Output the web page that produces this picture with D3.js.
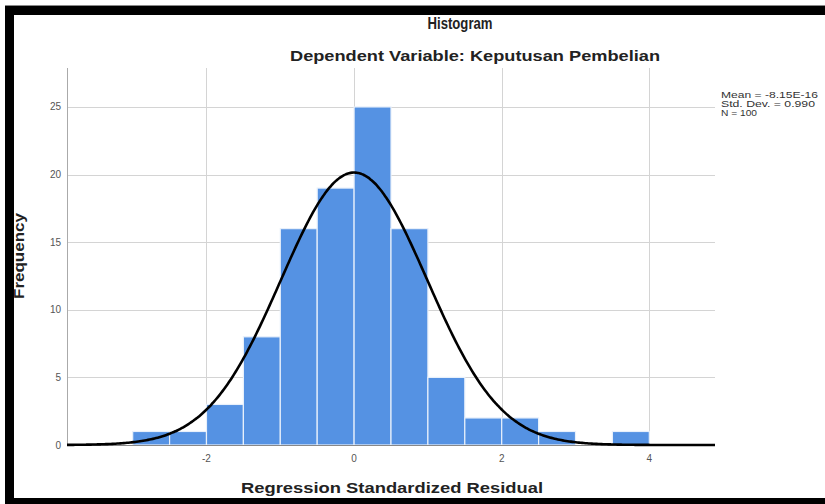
<!DOCTYPE html>
<html>
<head>
<meta charset="utf-8">
<script src="https://cdn.jsdelivr.net/npm/d3@7"></script>
<style>
  html, body { margin: 0; padding: 0; background: #fff; }
  svg { display: block; }
  text { font-family: "Liberation Sans", Arial, sans-serif; }
</style>
</head>
<body>
<svg id="chart" width="825" height="504"></svg>
<script>
// ---- data ----
const binStarts = [-3, -2.5, -2, -1.5, -1, -0.5, 0, 0.5, 1, 1.5, 2, 2.5, 3, 3.5];
const binWidth = 0.5;
const frequencies = [1, 1, 3, 8, 16, 19, 25, 16, 5, 2, 2, 1, 0, 1];
const xTicks = [-2, 0, 2, 4];
const yTicks = [0, 5, 10, 15, 20, 25];
const statLabels = ["Mean = -8.15E-16", "Std. Dev. = 0.990", "N = 100"];
const mean = -8.15e-16, sd = 0.990, n = 100;

const svg = d3.select("#chart");

// frame (black bands as in the screenshot)
svg.append("rect").attr("x", 0).attr("y", 0).attr("width", 825).attr("height", 504).attr("fill", "#fff");
svg.append("rect").attr("x", 5).attr("y", 6).attr("width", 820).attr("height", 9).attr("fill", "#000");
svg.append("line").attr("x1", 5).attr("x2", 825).attr("y1", 5.5).attr("y2", 5.5).attr("stroke", "#888");
svg.append("rect").attr("x", 5).attr("y", 6).attr("width", 9).attr("height", 498).attr("fill", "#000");
svg.append("rect").attr("x", 5).attr("y", 498).attr("width", 820).attr("height", 6).attr("fill", "#000");

const x = d3.scaleLinear().domain([-3.89, 4.89]).range([67, 715]);
const y = d3.scaleLinear().domain([0, 27.88]).range([445, 68]);

// grid
const g = svg.append("g");
g.selectAll(".hg").data(yTicks.filter(d => d > 0)).join("line")
  .attr("x1", 67).attr("x2", 715)
  .attr("y1", d => Math.round(y(d)) + 0.5).attr("y2", d => Math.round(y(d)) + 0.5)
  .attr("stroke", "#d4d4d4").attr("stroke-width", 1);
g.selectAll(".vg").data(xTicks).join("line")
  .attr("x1", d => Math.round(x(d)) + 0.5).attr("x2", d => Math.round(x(d)) + 0.5)
  .attr("y1", 68).attr("y2", 445)
  .attr("stroke", "#d4d4d4").attr("stroke-width", 1);

// bars
g.selectAll(".bar").data(binStarts.map((s, i) => ({s, f: frequencies[i]})).filter(d => d.f > 0)).join("rect")
  .attr("x", d => x(d.s))
  .attr("width", d => x(d.s + binWidth) - x(d.s))
  .attr("y", d => y(d.f))
  .attr("height", d => y(0) - y(d.f))
  .attr("fill", "#5592e3")
  .attr("stroke", "#e8f0fb").attr("stroke-width", 1.2);

// axes lines
svg.append("line").attr("x1", 67.5).attr("x2", 67.5).attr("y1", 68).attr("y2", 445)
  .attr("stroke", "#aaa").attr("stroke-width", 1);
svg.append("line").attr("x1", 67).attr("x2", 715).attr("y1", 445.5).attr("y2", 445.5)
  .attr("stroke", "#888").attr("stroke-width", 1);

// normal curve from stats
const pts = d3.range(0, 401).map(i => {
  const xv = x.domain()[0] + (x.domain()[1] - x.domain()[0]) * i / 400;
  const yv = n * binWidth / (sd * Math.sqrt(2 * Math.PI)) * Math.exp(-0.5 * ((xv - mean) / sd) ** 2);
  return [xv, yv];
});
svg.append("path").datum(pts)
  .attr("d", d3.line().x(d => x(d[0])).y(d => y(d[1])).curve(d3.curveBasis))
  .attr("fill", "none").attr("stroke", "#000").attr("stroke-width", 2.6);

// tick labels
svg.selectAll(".yt").data(yTicks).join("text")
  .attr("x", 61).attr("y", d => y(d) + 3.5)
  .attr("text-anchor", "end").attr("font-size", 10).attr("fill", "#555")
  .text(d => d);
svg.selectAll(".xt").data(xTicks).join("text")
  .attr("x", d => x(d)).attr("y", 462)
  .attr("text-anchor", "middle").attr("font-size", 10).attr("fill", "#555")
  .text(d => d);

// titles
svg.append("text").attr("x", 460).attr("y", 29).attr("text-anchor", "middle")
  .attr("font-size", 16).attr("font-weight", "bold").attr("fill", "#222")
  .attr("textLength", 65).attr("lengthAdjust", "spacingAndGlyphs")
  .text("Histogram");
svg.append("text").attr("x", 475).attr("y", 61).attr("text-anchor", "middle")
  .attr("font-size", 15).attr("font-weight", "bold").attr("fill", "#222")
  .attr("textLength", 370).attr("lengthAdjust", "spacingAndGlyphs")
  .text("Dependent Variable: Keputusan Pembelian");
svg.append("text").attr("x", 392).attr("y", 493).attr("text-anchor", "middle")
  .attr("font-size", 15).attr("font-weight", "bold").attr("fill", "#222")
  .attr("textLength", 302).attr("lengthAdjust", "spacingAndGlyphs")
  .text("Regression Standardized Residual");
svg.append("text").attr("transform", "translate(24,256) rotate(-90)").attr("text-anchor", "middle")
  .attr("font-size", 14).attr("font-weight", "bold").attr("fill", "#222")
  .attr("textLength", 86).attr("lengthAdjust", "spacingAndGlyphs")
  .text("Frequency");

// stats legend
svg.selectAll(".st").data(statLabels).join("text")
  .attr("x", 721).attr("y", (d, i) => 98 + i * 9)
  .attr("font-size", 8.5).attr("fill", "#333")
  .attr("textLength", (d, i) => [97, 94, 36][i]).attr("lengthAdjust", "spacingAndGlyphs")
  .text(d => d);
</script>
</body>
</html>
